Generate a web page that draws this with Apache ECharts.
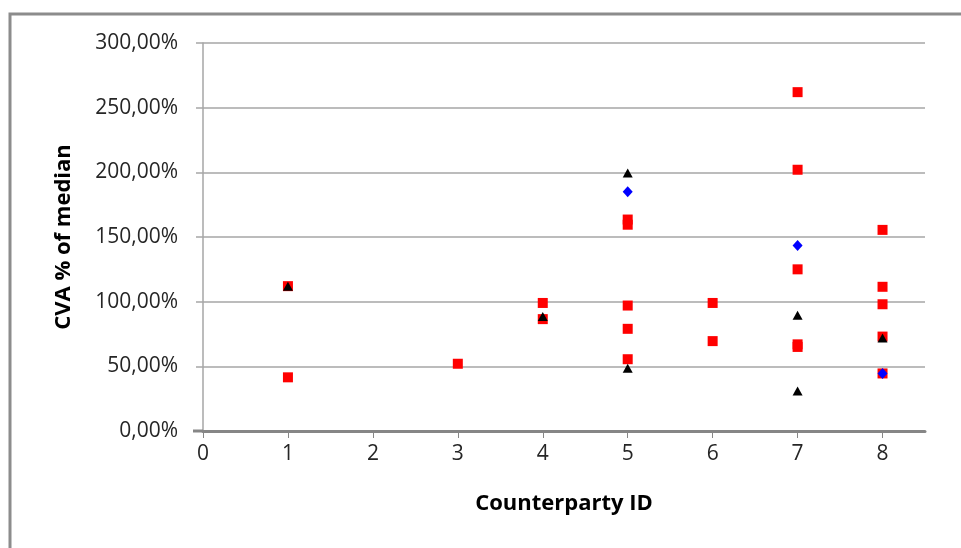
<!DOCTYPE html>
<html>
<head>
<meta charset="utf-8">
<script src="https://cdn.jsdelivr.net/npm/echarts@6/dist/echarts.min.js"></script>
<style>
  html, body { margin: 0; padding: 0; background: #fff; }
  #chart { width: 961px; height: 548px; }
</style>
</head>
<body>
<div id="chart"></div>
<script>
// CVA as a percentage of the median, per counterparty, for three model groups
const xTicks = [0, 1, 2, 3, 4, 5, 6, 7, 8];
const yTicks = [0, 50, 100, 150, 200, 250, 300];

const redIds    = [1, 1, 3, 4, 4, 5, 5, 5, 5, 5, 6, 6, 7, 7, 7, 7, 7, 8, 8, 8, 8, 8];
const redValues = [112, 41.5, 52, 99, 86.5, 163.5, 159.5, 97, 79, 55.5, 99, 69.5, 262, 202, 125, 67, 65, 155.5, 111.5, 98, 73, 44.5];

const blueIds    = [5, 7, 8];
const blueValues = [185, 143.5, 44.5];

const blackIds    = [1, 4, 5, 5, 7, 7, 8];
const blackValues = [112, 88.5, 199.5, 48.5, 89.5, 31, 72];

const pairs = (ids, vals) => ids.map((id, i) => [id, vals[i]]);

const FONT = '"Open Sans", "Liberation Sans", sans-serif';
const GRID_GRAY = '#a6a6a6';
const AXIS_GRAY = '#868686';
const TEXT = '#262626';

const chart = echarts.init(document.getElementById('chart'), null, { renderer: 'canvas' });

chart.setOption({
  animation: false,
  backgroundColor: '#fff',
  grid: { left: 203, right: 36, top: 43, bottom: 117, containLabel: false },
  xAxis: {
    type: 'value',
    min: 0,
    max: 8.5,
    interval: 1,
    name: 'Counterparty ID',
    nameLocation: 'middle',
    nameGap: 62,
    nameTextStyle: { fontFamily: FONT, fontSize: 22, fontWeight: 'bold', color: '#000' },
    axisLine: { show: true, lineStyle: { color: AXIS_GRAY, width: 3 } },
    axisTick: { show: true, length: 7, customValues: xTicks, lineStyle: { color: AXIS_GRAY, width: 1 } },
    axisLabel: { customValues: xTicks, margin: 13, fontFamily: FONT, fontSize: 21, color: TEXT },
    splitLine: { show: false }
  },
  yAxis: {
    type: 'value',
    min: 0,
    max: 300,
    interval: 50,
    name: 'CVA % of median',
    nameLocation: 'middle',
    nameGap: 128,
    nameTextStyle: { fontFamily: FONT, fontSize: 22, fontWeight: 'bold', color: '#000' },
    axisLine: { show: true, lineStyle: { color: GRID_GRAY, width: 1.5 } },
    axisTick: { show: true, length: 7, customValues: yTicks, lineStyle: { color: GRID_GRAY, width: 1.5 } },
    axisLabel: {
      customValues: yTicks,
      margin: 25,
      fontFamily: FONT,
      fontSize: 21,
      color: TEXT,
      formatter: v => v.toFixed(2).replace('.', ',') + '%'
    },
    splitLine: { show: true, lineStyle: { color: GRID_GRAY, width: 1.5 } }
  },
  series: [
    {
      name: 'red',
      type: 'scatter',
      symbol: 'rect',
      symbolSize: 10,
      itemStyle: { color: '#ff0000', opacity: 1 },
      data: pairs(redIds, redValues),
      z: 2
    },
    {
      name: 'black',
      type: 'scatter',
      symbol: 'triangle',
      symbolSize: [10, 9],
      itemStyle: { color: '#000000', opacity: 1 },
      data: pairs(blackIds, blackValues),
      z: 3
    },
    {
      name: 'blue',
      type: 'scatter',
      symbol: 'diamond',
      symbolSize: [10, 11],
      itemStyle: { color: '#0000ff', opacity: 1 },
      data: pairs(blueIds, blueValues),
      z: 4
    }
  ]
});

// Chart frame, plus the short stub of the x-axis line left of the origin
const origin = chart.convertToPixel({ gridIndex: 0 }, [0, 0]);
chart.setOption({
  graphic: [
    {
      type: 'polyline',
      shape: { points: [[10, 548], [10, 14], [961, 14]] },
      style: { stroke: '#8c8c8c', lineWidth: 3, fill: null },
      silent: true
    },
    {
      type: 'line',
      shape: { x1: origin[0] - 10, y1: origin[1], x2: origin[0], y2: origin[1] },
      style: { stroke: AXIS_GRAY, lineWidth: 3 },
      silent: true,
      z: 5
    }
  ]
});
</script>
</body>
</html>
